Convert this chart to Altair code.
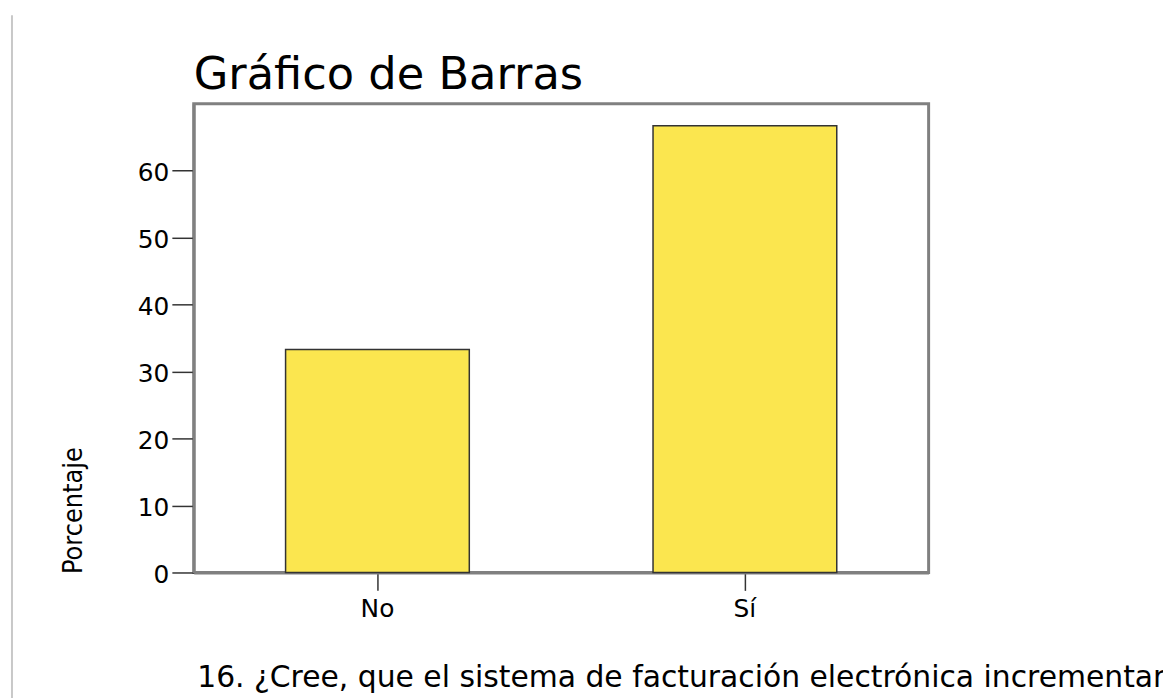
import altair as alt
import pandas as pd

categories = ["No", "Sí"]
percentages = [33.3, 66.7]
y_ticks = [0, 10, 20, 30, 40, 50, 60]
chart_title = "Gráfico de Barras"
y_title = "Porcentaje"
x_title = "16. ¿Cree, que el sistema de facturación electrónica incrementará"

df = pd.DataFrame({"cat": categories, "pct": percentages})

bars = alt.Chart(df).mark_bar(
    fill="#fbe64f", stroke="#333333", strokeWidth=1.5
).encode(
    x=alt.X("cat:N", sort=categories,
            scale=alt.Scale(paddingInner=0.5, paddingOuter=0.25),
            axis=alt.Axis(
                title=x_title, labelAngle=0,
                labelFont="DejaVu Sans", labelFontSize=25, labelColor="#000000",
                labelBaseline="alphabetic", labelPadding=26,
                tickSize=18, tickColor="#333333", tickWidth=1.5,
                domainColor="#808080", domainWidth=3,
                titleFont="DejaVu Sans", titleFontSize=30, titleFontWeight="normal",
                titleColor="#000000", titleAlign="left", titleBaseline="alphabetic",
                titleAnchor="start", titleX=3, titleY=115, titleLimit=3000,
            )),
    y=alt.Y("pct:Q",
            scale=alt.Scale(domain=[0, 70], nice=False),
            axis=alt.Axis(
                title=y_title, values=y_ticks, grid=False,
                labelFont="DejaVu Sans", labelFontSize=25, labelColor="#000000",
                labelPadding=3, labelOffset=2,
                tickSize=22, tickColor="#333333", tickWidth=1.5,
                domainColor="#808080", domainWidth=3,
                titleFont="DejaVu Sans Condensed, Liberation Sans Narrow, Liberation Sans",
                titleFontSize=27,
                titleFontWeight="normal", titleColor="#000000",
                titleAngle=270, titleAlign="left", titleBaseline="alphabetic",
                titleX=-113, titleY=473,
            )),
)

frame_line = alt.Chart(pd.DataFrame({"k": [0]})).mark_rule(
    color="#c8c8c8", strokeWidth=2
).encode(x=alt.value(-183), y=alt.value(-89), y2=alt.value(700))

title_text = alt.Chart(pd.DataFrame({"t": [chart_title]})).mark_text(
    font="DejaVu Sans", fontSize=45, color="#000000",
    align="left", baseline="alphabetic"
).encode(text="t:N", x=alt.value(0), y=alt.value(-15))

chart = alt.layer(frame_line, bars, title_text).properties(
    width=740, height=472,
    background="white",
    autosize=alt.AutoSizeParams(type="none"),
    padding={"left": 187, "top": 94, "right": 236, "bottom": 124},
).configure_view(stroke="#808080", strokeWidth=3)

chart.save("out.html", embed_options={"renderer": "svg", "actions": False})
